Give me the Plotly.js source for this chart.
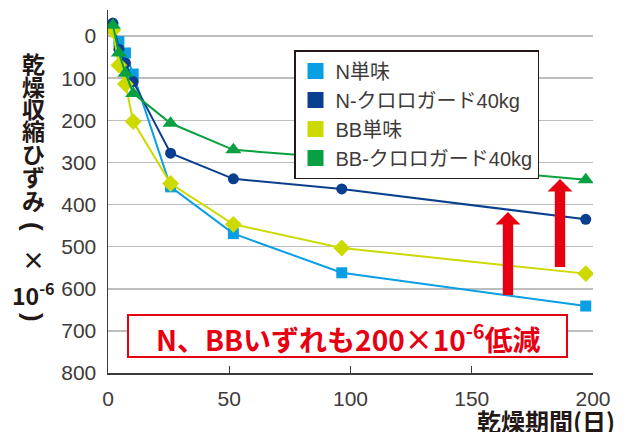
<!DOCTYPE html>
<html>
<head>
<meta charset="utf-8">
<script src="https://cdn.plot.ly/plotly-3.0.1.min.js"></script>
<style>html,body{margin:0;padding:0;background:#fff;}#chart{width:639px;height:432px;}</style>
</head>
<body>
<div id="chart"></div>
<script>
// ---- data ----
var days = [2, 4.5, 7.2, 10.4, 25.8, 51.7, 96.4, 197];
var seriesNames = ["N単味", "N-クロロガード40kg", "BB単味", "BB-クロロガード40kg"];
var nPlain   = [-21, 13, 40, 90, 358, 469, 562, 641];
var nChloro  = [-31, 31, 64, 108, 278, 339, 363, 435];
var bbPlain  = [-14, 69, 114, 203, 350, 447, 503, 564];
var bbChloro = [-26, 40, 88, 136, 207, 270, 290, 341];
var xTicks = [0, 50, 100, 150, 200];
var yTicks = [0, 100, 200, 300, 400, 500, 600, 700, 800];
var yTitleChars = ["乾","燥","収","縮","ひ","ず","み","(","×","10<sup>-6</sup>",")"];
var noteText = "N、BBいずれも200×10<sup>-6</sup>低減";
var xTitleText = "乾燥期間(日)";

// ---- styles ----
var colors = ["#0a9fe5", "#0a3f8f", "#cdda00", "#08a040"];
var symbols = ["square", "circle", "diamond", "triangle-up"];
var sizes = [11, 11, 13, 14];
var values = [nPlain, nChloro, bbPlain, bbChloro];
var FONT = "Liberation Sans, Arial, Noto Sans CJK JP, sans-serif";
var JFONT = "Noto Sans CJK JP, Liberation Sans, sans-serif";
var LJFONT = "Liberation Sans, Noto Sans CJK JP, sans-serif";
var RED = "#e60012";

var W = 639, H = 432, L = 108, R = 46, T = 10, B = 59;
var pw = W - L - R, ph = H - T - B;
function px2x(px){ return (px - L) / pw; }
function px2y(py){ return (H - B - py) / ph; }

var traces = [];
for (var i = 0; i < 4; i++) {
  traces.push({
    x: days, y: values[i], mode: "lines+markers", showlegend: false,
    line: {color: colors[i], width: 2},
    marker: {symbol: symbols[i], size: sizes[i], color: colors[i]},
    hoverinfo: "skip"
  });
}
// legend patches
for (var i = 0; i < 4; i++) {
  traces.push({
    x: [null], y: [null], mode: "markers", name: seriesNames[i],
    marker: {symbol: "square", size: 16, color: colors[i]}
  });
}

// y-axis title, stacked vertically (parentheses turned for vertical writing)
var charY = [63, 86, 108, 130, 153, 176, 200, 226, 259, 294, 317];
var annotations = [];
for (var k = 0; k < yTitleChars.length; k++) {
  var isParen = (yTitleChars[k] === "(" || yTitleChars[k] === ")");
  annotations.push({
    xref: "paper", yref: "paper", x: px2x(33), y: px2y(charY[k]),
    text: "<b>" + yTitleChars[k] + "</b>", showarrow: false,
    xanchor: "center", yanchor: "middle", textangle: isParen ? 90 : 0,
    font: {family: isParen ? LJFONT : JFONT, size: isParen ? 26 : 23, color: "#231815"}
  });
}
// x-axis title
annotations.push({
  xref: "paper", yref: "paper", x: px2x(617), y: px2y(420),
  text: "<b>" + xTitleText + "</b>", showarrow: false,
  xanchor: "right", yanchor: "middle",
  font: {family: JFONT, size: 24, color: "#231815"}
});
// red note
annotations.push({
  xref: "paper", yref: "paper", x: px2x(348), y: px2y(337),
  text: "<b>" + noteText + "</b>", showarrow: false,
  xanchor: "center", yanchor: "middle",
  font: {family: JFONT, size: 28, color: RED}
});

function arrowPath(cx, yTop, yBot) {
  var sw = 5.2, hw = 12.5, hh = 12.5;
  var pts = [[cx - sw, yBot], [cx - sw, yTop + hh], [cx - hw, yTop + hh], [cx, yTop],
             [cx + hw, yTop + hh], [cx + sw, yTop + hh], [cx + sw, yBot]];
  var d = "";
  for (var j = 0; j < pts.length; j++) {
    d += (j === 0 ? "M" : "L") + px2x(pts[j][0]).toFixed(5) + "," + px2y(pts[j][1]).toFixed(5);
  }
  return d + "Z";
}

var shapes = [
  {type: "rect", xref: "paper", yref: "paper", x0: px2x(128), x1: px2x(567), y0: px2y(357), y1: px2y(315),
   line: {color: RED, width: 2}, fillcolor: "#ffffff", layer: "above"},
  {type: "path", xref: "paper", yref: "paper", path: arrowPath(508, 212, 295), fillcolor: RED, line: {width: 0}, layer: "above"},
  {type: "path", xref: "paper", yref: "paper", path: arrowPath(560, 179, 267), fillcolor: RED, line: {width: 0}, layer: "above"}
];

var layout = {
  width: W, height: H,
  margin: {l: L, r: R, t: T, b: B, pad: 0},
  paper_bgcolor: "#ffffff", plot_bgcolor: "#ffffff",
  font: {family: FONT, color: "#3e3a39"},
  xaxis: {
    range: [0, 200], tickvals: xTicks, ticktext: xTicks.map(String),
    showgrid: false, zeroline: false, showline: true, linecolor: "#3e3a39", linewidth: 1.5,
    ticks: "inside", ticklen: 7, tickwidth: 1.2, tickcolor: "#3e3a39",
    tickfont: {family: FONT, size: 21, color: "#3e3a39"}, ticklabelstandoff: 6
  },
  yaxis: {
    range: [800, -62], tickvals: yTicks, ticktext: yTicks.map(String),
    showgrid: true, gridcolor: "#bdbdbd", gridwidth: 1.5, zeroline: false,
    showline: true, linecolor: "#3e3a39", linewidth: 1.5,
    ticks: "", tickfont: {family: FONT, size: 21, color: "#3e3a39"}, ticklabelstandoff: 6
  },
  showlegend: true,
  legend: {
    x: px2x(294), y: px2y(50), xanchor: "left", yanchor: "top",
    bgcolor: "#ffffff", bordercolor: "#231815", borderwidth: 1.5,
    font: {family: LJFONT, size: 20, color: "#3e3a39"},
    itemwidth: 30, tracegroupgap: 0
  },
  annotations: annotations,
  shapes: shapes
};

Plotly.newPlot("chart", traces, layout, {displayModeBar: false, staticPlot: true});
</script>
</body>
</html>
